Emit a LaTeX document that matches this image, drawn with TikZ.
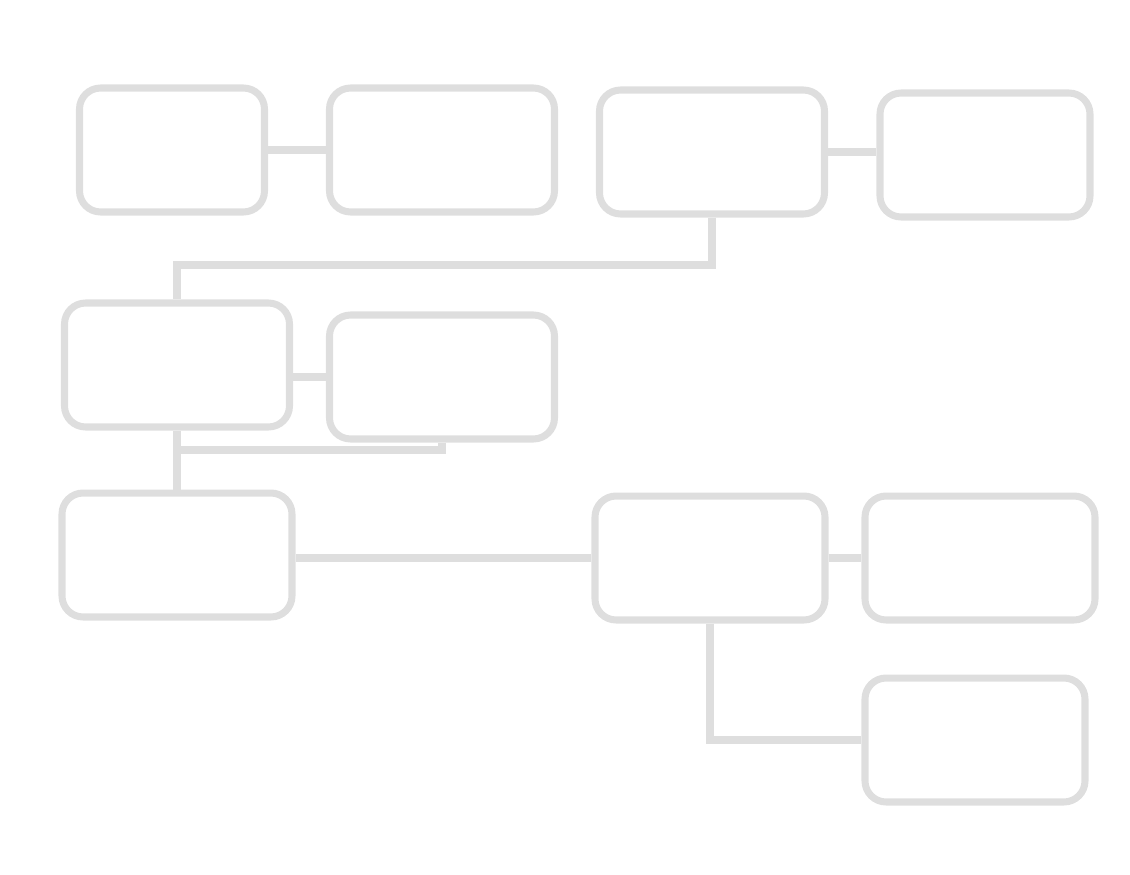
\documentclass[tikz,border=0pt]{standalone}
\usepackage{tikz}
\begin{document}
\begin{tikzpicture}[x=0.02cm,y=-0.02cm]
\tikzstyle{every node}+=[inner sep=0pt]
\tikzstyle{stepbox}=[draw=black!13,line width=4pt,rounded corners=12pt,minimum width=#1*0.02cm,minimum height=2.48cm]
\tikzstyle{wire}=[draw=black!13,line width=4pt]
\useasboundingbox (0,0) rectangle (1130,875);
\node [stepbox=185] (a) at (172,150) {};
\node [stepbox=225] (b) at (442,150) {};
\node [stepbox=225] (c) at (712,152) {};
\node [stepbox=210] (d) at (985,155) {};
\node [stepbox=225] (e) at (177,365) {};
\node [stepbox=225] (f) at (442,377) {};
\node [stepbox=230] (g) at (177,555) {};
\node [stepbox=230] (h) at (710,558) {};
\node [stepbox=230] (i) at (980,558) {};
\node [stepbox=220] (j) at (975,740) {};
\coordinate (bendc) at (177,265);
\coordinate (bendf) at (177,450);
\draw [wire] (a.east) -- (a.east -| b.west);
\draw [wire] (c.east) -- (c.east -| d.west);
\draw [wire] (c.south) |- (bendc) -- (e.north);
\draw [wire] (f.west) -- (f.west -| e.east);
\draw [wire] (e.south) -- (g.north);
\draw [wire] (f.south) |- (bendf);
\draw [wire] (h.west) -- (h.west -| g.east);
\draw [wire] (h.east) -- (h.east -| i.west);
\draw [wire] (h.south) |- (j.west);
\end{tikzpicture}
\end{document}
